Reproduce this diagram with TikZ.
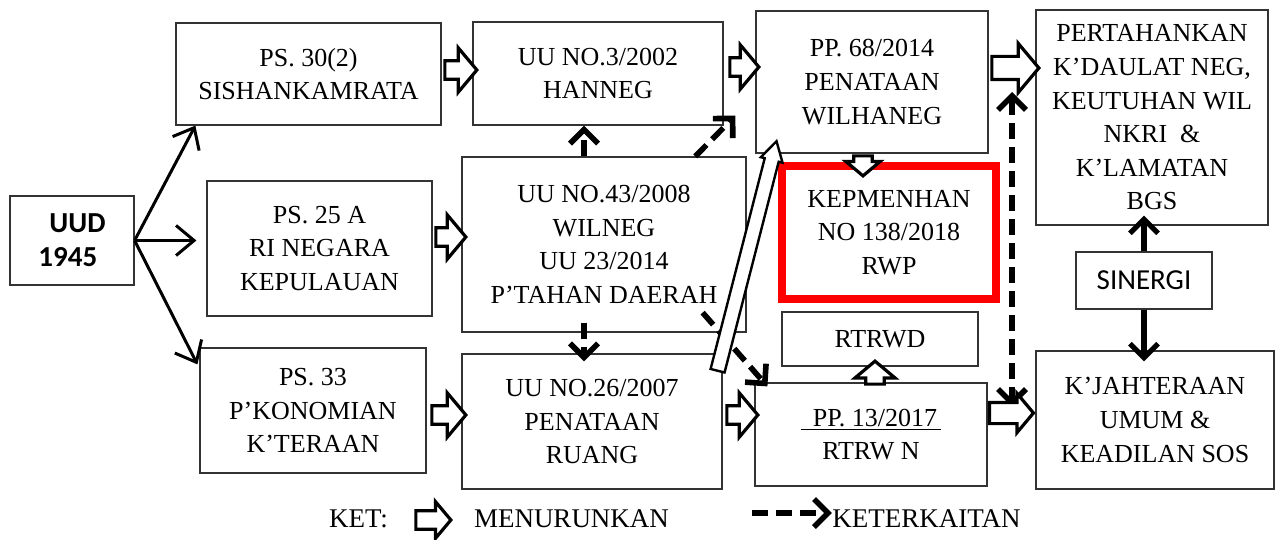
\documentclass[tikz,border=0pt]{standalone}
\usepackage{fontspec}
\setmainfont{Liberation Serif}
\newfontfamily\calibri{Carlito}
\usepackage{tikz}
\usetikzlibrary{shapes,arrows,arrows.meta,positioning,calc}

\begin{document}
\begin{tikzpicture}[x=0.5pt, y=-0.5pt,
  box/.style={rectangle, draw=black!80, line width=0.6pt, align=center, inner sep=2pt, font=\fontsize{13}{16.8}\selectfont},
  redbox/.style={box, draw=red, line width=4pt},
  arrow/.style={->, >={Straight Barb[length=9pt,width=15pt]}, line width=1.5pt},
  thickarrow/.style={->, >={Straight Barb[length=7pt,width=14pt]}, line width=2.6pt},
  dasharrow/.style={>={Straight Barb[length=7pt,width=14pt]}, line width=2.8pt, dash pattern=on 8pt off 4pt},
  menurun/.style={single arrow, draw, fill=white, line width=1.6pt, inner sep=0pt, text height=3.8pt, text depth=3.8pt, minimum width=21pt, single arrow head extend=6.5pt, single arrow tip angle=100},
  legend/.style={font=\fontsize{13.5}{16}\selectfont, inner sep=0pt}
]
\useasboundingbox (0,0) rectangle (1279,540);

% boxes
\node[box, minimum width=62pt, minimum height=44.5pt, font=\calibri\bfseries\fontsize{14.5}{17}\selectfont, align=left] (uud) at (72,240.5) {\hspace*{5.5pt}UUD\\1945};
\node[box, minimum width=132.5pt, minimum height=51pt] (ps30) at (308.5,74) {PS. 30(2)\\SISHANKAMRATA};
\node[box, minimum width=112.5pt, minimum height=67.5pt] (ps25) at (319.5,248.5) {PS. 25 A\\RI NEGARA\\KEPULAUAN};
\node[box, minimum width=113pt, minimum height=62.5pt] (ps33) at (313,410.5) {PS. 33\\P’KONOMIAN\\K’TERAAN};
\node[box, minimum width=125pt, minimum height=51.5pt] (uu3) at (598,73.5) {UU NO.3/2002\\HANNEG};
\node[box, minimum width=142pt, minimum height=87.5pt] (uu43) at (604,244.5) {UU NO.43/2008\\WILNEG\\UU 23/2014\\P’TAHAN DAERAH};
\node[box, minimum width=130pt, minimum height=67.5pt] (uu26) at (592,421.5) {UU NO.26/2007\\PENATAAN\\RUANG};
\node[box, minimum width=116pt, minimum height=71pt] (pp68) at (872,82) {PP. 68/2014\\PENATAAN\\WILHANEG};
\node[redbox, minimum width=107pt, minimum height=66.5pt] (kep) at (889,232.5) {KEPMENHAN\\NO 138/2018\\RWP};
\node[box, minimum width=98pt, minimum height=27pt] (rtrwd) at (880,339) {RTRWD};
\node[box, minimum width=116pt, minimum height=51.5pt] (pp13) at (871,434.5) {\underline{\hspace{6pt}PP. 13/2017\hspace{2pt}}\\RTRW N};
\node[box, minimum width=116pt, minimum height=107.5pt] (pert) at (1152,117.5) {PERTAHANKAN\\K’DAULAT NEG,\\KEUTUHAN WIL\\NKRI\ \ \&\\K’LAMATAN\\BGS};
\node[box, minimum width=68pt, minimum height=28.5pt, font=\calibri\fontsize{14.5}{17}\selectfont] (sin) at (1144,280.5) {SINERGI};
\node[box, minimum width=119pt, minimum height=69pt] (kj) at (1155,420) {K’JAHTERAAN\\UMUM \&\\KEADILAN SOS};

% UUD 1945
\draw[arrow] (uud.east) -- ($(ps30.south west)!0.075!(ps30.south east)$);
\draw[arrow, shorten >=5pt] (uud.east) -- (uud.east -| ps25.west);
\draw[arrow] (uud.east) -- ($(ps33.north west)+(-2,17)$);

% keterkaitan
\coordinate (d1) at ($(uu43.north west)!0.43!(uu43.north east)$);
\coordinate (d3) at ($(uu43.south west)!0.43!(uu43.south east)+(0,-10)$);
\coordinate (vtop) at (1012,92);
\coordinate (vbot) at (1012,407);
\draw[dasharrow, ->] (d1) -- (d1 |- uu3.south);
\draw[dasharrow, ->] ($(uu43.north west)!0.82!(uu43.north east)$) -- ($(pp68.south west)+(-20,-38)$);
\draw[dasharrow, ->, shorten >=-4pt] (d3) -- (d3 |- uu26.north);
\draw[dasharrow, ->] ($(uu43.south east)+(-44,-20)$) -- ($(pp13.north west)+(13,4)$);
\draw[dasharrow, <->] (vtop) -- (vbot);

% sinergi
\draw[thickarrow, shorten >=-5pt] (sin.north) -- (sin.north |- pert.south);
\draw[thickarrow, shorten >=-5.5pt] (sin.south) -- (sin.south |- kj.north);

% menurunkan
\node[menurun, minimum height=16pt] (m1) at (457,70) {};
\node[menurun, minimum height=15pt] (m2) at (447,237) {};
\node[menurun, minimum height=17pt] (m3) at (445,415) {};
\node[menurun, minimum height=14.5pt] (m4) at (740.5,67) {};
\node[menurun, minimum height=15.5pt] (m5) at (738.5,415) {};
\node[menurun, minimum height=23.5pt, text height=5pt, text depth=5pt] (m6) at (1010.5,68) {};
\node[menurun, minimum height=22pt, minimum width=18pt, single arrow head extend=4.5pt, text height=4.5pt, text depth=4.5pt] (m7) at (1007,413) {};
\node[menurun, minimum height=10pt, minimum width=16pt, single arrow head extend=4pt, rotate=-90] (m8) at (863,162) {};
\node[menurun, minimum height=11.5pt, minimum width=19pt, single arrow head extend=5.5pt, rotate=90] (m9) at (875,376.5) {};
\node[menurun, minimum height=118.5pt, minimum width=10pt, text height=3pt, text depth=3pt, single arrow head extend=2pt, single arrow tip angle=60, line width=1.2pt, rotate=75.6] (m10) at (745.5,262) {};

% keterangan
\node[legend] (ket) at (358.5,519) {KET:};
\node[menurun, minimum height=17.5pt, minimum width=17pt, single arrow head extend=4.5pt] (legarr) at (429.5,520) {};
\node[legend] (menurunkan) at (571.5,519) {MENURUNKAN};
\node[legend] (keterkaitan) at (926.5,519) {KETERKAITAN};
\coordinate (legdash) at (752,513);
\draw[dasharrow, ->] (legdash) -- (legdash -| keterkaitan.west);
\end{tikzpicture}
\end{document}
